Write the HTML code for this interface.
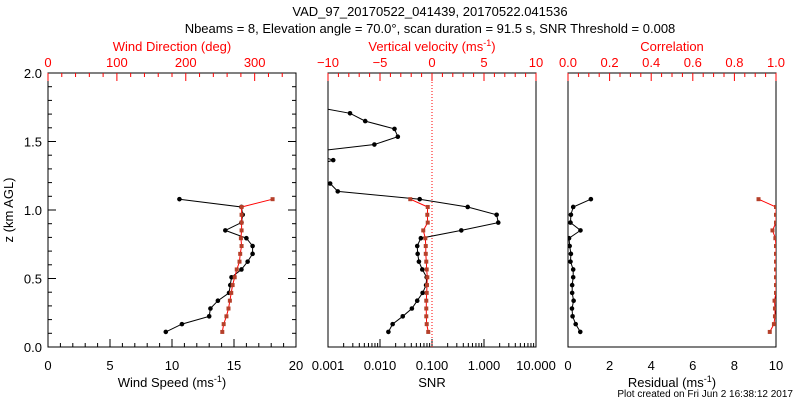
<!DOCTYPE html>
<html><head><meta charset="utf-8"><style>
html,body{margin:0;padding:0;background:#fff;width:800px;height:400px;overflow:hidden}
svg text{font-family:"Liberation Sans",sans-serif;font-size:13px}
</style></head><body>
<svg id="c" width="800" height="400" xmlns="http://www.w3.org/2000/svg">
<defs>
<clipPath id="cp1"><rect x="48" y="73" width="248" height="274"/></clipPath>
<clipPath id="cp2"><rect x="328" y="73" width="208" height="274"/></clipPath>
<clipPath id="cp3"><rect x="568" y="73" width="208" height="274"/></clipPath>
</defs>
<text x="430" y="16" text-anchor="middle">VAD_97_20170522_041439, 20170522.041536</text>
<text x="430" y="33" text-anchor="middle">Nbeams = 8, Elevation angle = 70.0°, scan duration = 91.5 s, SNR Threshold = 0.008</text>
<text x="793" y="397" text-anchor="end" style="font-size:10px">Plot created on Fri Jun  2 16:38:12 2017</text>
</svg>
<script>
const heights=[];for(let i=0;i<30;i++)heights.push(+(0.11+0.057*i).toFixed(3));
const windSpeed=[9.5,10.8,13.0,13.1,13.7,14.6,14.7,14.8,15.6,16.1,16.5,16.5,16.0,14.3,15.6,15.7,15.6,10.6];
const windDir=[253,255,259,262,264,266,268,271,274,278,279,281,280,281,281,281,281,326];
const snr=[0.0145,0.0175,0.0274,0.041,0.052,0.066,0.077,0.079,0.065,0.056,0.053,0.052,0.061,0.366,1.88,1.75,0.486,0.058,0.00154,0.0011,0.0004,0.0004,0.00126,0.0004,0.0078,0.022,0.019,0.0052,0.00265,0.0004];
const wVel=[-0.36,-0.51,-0.55,-0.55,-0.55,-0.51,-0.48,-0.45,-0.51,-0.55,-0.6,-0.6,-0.64,-0.84,-0.41,-0.45,-0.41,-2.09];
const residual=[0.59,0.37,0.22,0.19,0.27,0.2,0.2,0.25,0.25,0.12,0.14,0.08,0.05,0.6,0.12,0.14,0.25,1.1];
const corr=[0.97,0.99,0.995,0.995,0.993,1.0,1.0,1.0,1.0,1.0,1.0,1.0,0.997,0.983,1.0,1.0,1.0,0.916];

const S=document.getElementById('c'),NS='http://www.w3.org/2000/svg';
function el(t,a,p){const e=document.createElementNS(NS,t);for(const k in a)e.setAttribute(k,a[k]);(p||S).appendChild(e);return e;}
const Y0=347,Y1=73;
const yS=z=>Y0-(z/2)*(Y0-Y1);
function lin(d0,d1,x0,x1){return v=>x0+(v-d0)/(d1-d0)*(x1-x0);}
function txt(x,y,s,name,opt){const t=el('text',Object.assign({x:x,y:y,'text-anchor':'middle'},opt||{}));t.textContent=s;return t;}
function frame(x0,x1,name){const r=el('rect',{x:x0,y:Y1,width:x1-x0,height:Y0-Y1,fill:'none',stroke:'#000','stroke-width':1});}
function tick(x1,y1,x2,y2,c,name){const l=el('line',{x1:x1,y1:y1,x2:x2,y2:y2,stroke:c,'stroke-width':1});}
function series(xs,xf,col,mcol,clip,name,sq){
  const g=el('g',{'clip-path':'url(#'+clip+')'});
  
  
  let pts=xs.map((v,i)=>xf(v).toFixed(1)+','+yS(heights[i]).toFixed(1)).join(' ');
  el('polyline',{points:pts,fill:'none',stroke:col,'stroke-width':1},g);
  xs.forEach((v,i)=>{const x=xf(v),y=yS(heights[i]);
    let m;
    if(sq)m=el('rect',{x:x-2,y:y-2,width:4,height:4,fill:mcol},g);
    else m=el('circle',{cx:x,cy:y,r:2.3,fill:mcol},g);
    
    });
}
const RED='#ff0000',BR='#b5402a';
// Panel 1
frame(48,296,'wind-panel-frame');
const xWS=lin(0,20,48,296),xWD=lin(0,360,48,296);
for(let v=0;v<=20;v++){const x=xWS(v);tick(x,Y0,x,Y0-(v%5?4:8),'#000','ws-tick');}
for(let z=0;z<=2.001;z+=0.1){const y=yS(z),maj=Math.round(z*10)%5==0;tick(48,y,48+(maj?8:4),y,'#000','z-tick');tick(296,y,296-(maj?8:4),y,'#000','z-tick-right');}
for(let v=0;v<=340;v+=20){const x=xWD(v);tick(x,Y1,x,Y1+(v%100?4:8),RED,'wd-tick');}
[0,5,10,15,20].forEach(v=>txt(xWS(v),370,String(v),'ws-tick-label'));
[0,0.5,1,1.5,2].forEach(v=>txt(42,yS(v)+5,v.toFixed(1),'z-tick-label',{'text-anchor':'end'}));
[0,100,200,300].forEach(v=>txt(xWD(v),67,String(v),'wd-tick-label',{fill:RED}));
txt(172,51,'Wind Direction (deg)','wd-axis-title',{fill:RED});
const t1=txt(172,387,'Wind Speed (ms','ws-axis-title');const s1=el('tspan',{dy:-5,'font-size':'9'},t1);s1.textContent='-1';const s1b=el('tspan',{dy:5},t1);s1b.textContent=')';
txt(0,0,'z (km AGL)','z-axis-title',{transform:'translate(13,210) rotate(-90)'});
series(windSpeed,xWS,'#000','#000','cp1','wind-speed-series');
series(windDir,xWD,RED,BR,'cp1','wind-direction-series',true);
// Panel 2
frame(328,536,'snr-panel-frame');
const xSN=v=>328+52*(Math.log10(v)+3),xVV=lin(-10,10,328,536);
for(let d=-3;d<1;d++)for(let k=1;k<=9;k++){const x=xSN(k*Math.pow(10,d));tick(x,Y0,x,Y0-(k==1?8:4),'#000','snr-tick');}
for(let v=-10;v<=10;v++){const x=xVV(v);tick(x,Y1,x,Y1+(v%5?4:8),RED,'vv-tick');}
['0.001','0.010','0.100','1.000','10.000'].forEach((s,i)=>txt(328+52*i,370,s,'snr-tick-label'));
[-10,-5,0,5,10].forEach(v=>txt(xVV(v),67,v<0?'\u2212'+(-v):String(v),'vv-tick-label',{fill:RED}));
const t2=txt(432,51,'Vertical velocity (ms','vv-axis-title',{fill:RED});const s2=el('tspan',{dy:-5,'font-size':'9'},t2);s2.textContent='-1';const s2b=el('tspan',{dy:5},t2);s2b.textContent=')';
txt(432,387,'SNR','snr-axis-title');
const zl=el('line',{x1:432,y1:Y1,x2:432,y2:Y0,stroke:RED,'stroke-width':1,'stroke-dasharray':'1,2'});
series(snr,xSN,'#000','#000','cp2','snr-series');
series(wVel,xVV,RED,BR,'cp2','vertical-velocity-series',true);
// Panel 3
frame(568,776,'residual-panel-frame');
const xRS=lin(0,10,568,776),xCR=lin(0,1,568,776);
for(let v=0;v<=1.0001;v+=0.05){const x=xCR(v),maj=Math.round(v*20)%4==0;tick(x,Y1,x,Y1+(maj?8:4),RED,'corr-tick');}
[0,2,4,6,8,10].forEach(v=>txt(xRS(v),370,String(v),'residual-tick-label'));
['0.0','0.2','0.4','0.6','0.8','1.0'].forEach((s,i)=>txt(xCR(i*0.2),67,s,'corr-tick-label',{fill:RED}));
txt(672,51,'Correlation','corr-axis-title',{fill:RED});
const t3=txt(672,387,'Residual (ms','residual-axis-title');const s3=el('tspan',{dy:-5,'font-size':'9'},t3);s3.textContent='-1';const s3b=el('tspan',{dy:5},t3);s3b.textContent=')';
series(residual,xRS,'#000','#000','cp3','residual-series');
series(corr,xCR,RED,BR,'cp3','correlation-series',true);
</script>
</body></html>
